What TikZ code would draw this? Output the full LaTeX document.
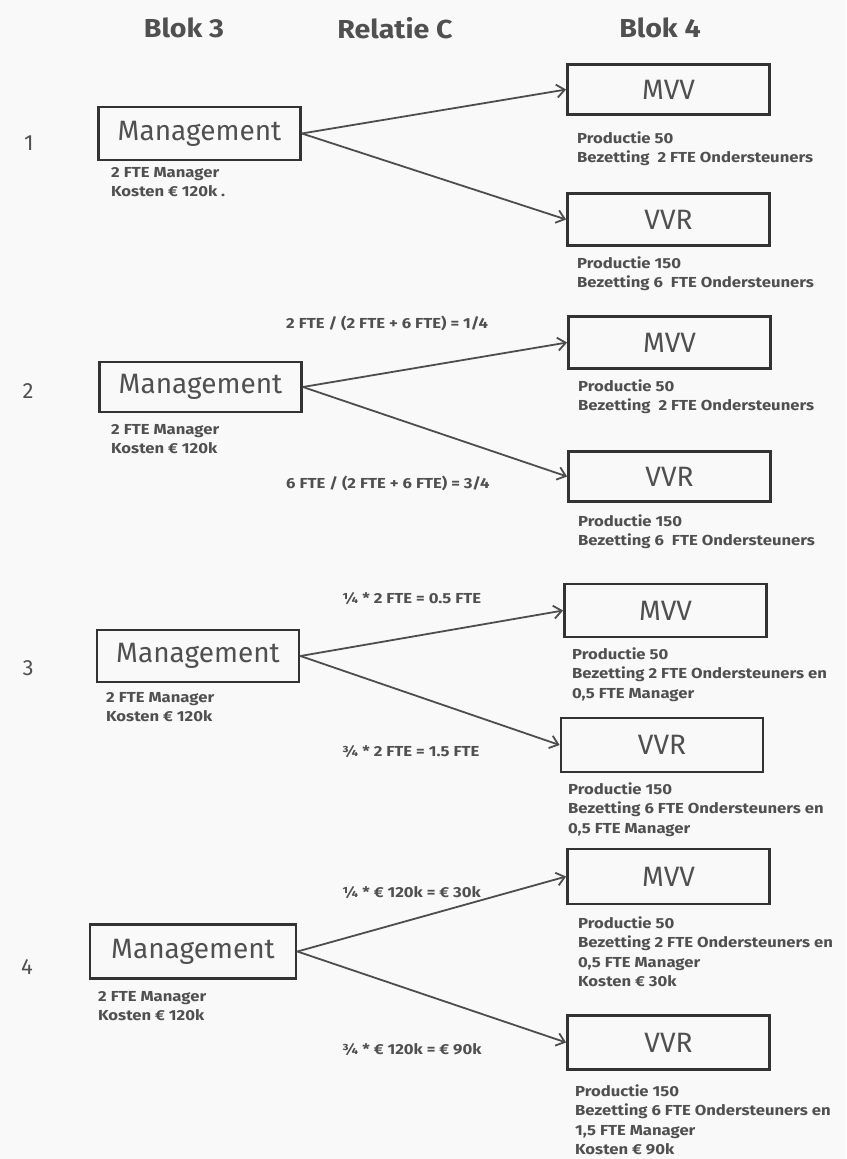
\documentclass[tikz,border=0pt]{standalone}
\usepackage{fontspec}
\setmainfont{Fira Sans}
\newfontfamily\widefont{Fira Sans}[FakeStretch=1.15]
\newfontfamily\headfont{Fira Sans}[FakeStretch=1.1]
\usetikzlibrary{arrows.meta}
\definecolor{txt}{HTML}{505050}
\definecolor{boxc}{HTML}{333333}
\definecolor{arrc}{HTML}{4D4D4D}
\definecolor{bg}{HTML}{F9F9F9}
\tikzset{
  box/.style={draw=boxc, line width=2.8pt, inner sep=0pt, text=txt,
    font=\fontsize{28}{30}\selectfont},
  info/.style={anchor=north west, align=left, inner sep=0pt, text=txt,
    font=\widefont\bfseries\fontsize{14.5}{19.5}\selectfont},
  minfo/.style={anchor=north west, align=left, inner sep=0pt, text=txt,
    font=\widefont\bfseries\fontsize{14.5}{18.5}\selectfont},
  rel/.style={anchor=west, inner sep=0pt, text=txt,
    font=\widefont\bfseries\fontsize{14.5}{16}\selectfont},
  head/.style={inner sep=0pt, text=txt, font=\headfont\bfseries\fontsize{26}{30}\selectfont},
  num/.style={inner sep=0pt, text=txt, font=\fontsize{22}{28}\selectfont},
  arr/.style={draw=arrc, line width=1.8pt, -{Straight Barb[length=8pt,width=13pt]}},
}
\begin{document}
\begin{tikzpicture}[x=1pt,y=-1pt]
\fill[bg] (0,0) rectangle (846,1159);
\useasboundingbox (0,0) rectangle (846,1159);

% headers
\node[head] (h1) at (184,28) {Blok 3};
\node[head] (h2) at (395,28) {Relatie C};
\node[head] (h3) at (660,28) {Blok 4};

% ---------- panel 1
\node[num] (n1) at (29,143) {1};
\node[box, minimum width=202pt, minimum height=53pt] (m1) at (199.5,133.5) {Management};
\node[box, minimum width=202pt, minimum height=50pt] (v1) at (668.5,89.5) {MVV};
\node[box, minimum width=202pt, minimum height=52pt] (r1) at (668.5,219.5) {VVR};
\node[minfo] (mt1) at (111,167.5) {2 FTE Manager\\Kosten € 120k .};
\node[info] (vt1) at (577,131.5) {Productie 50\\Bezetting\ \ 2 FTE Ondersteuners};
\node[info] (rt1) at (577,256.5) {Productie 150\\Bezetting 6\ \ FTE Ondersteuners};
\draw[arr] (m1.east) -- (v1.west);
\draw[arr] (m1.east) -- (r1.west);

% ---------- panel 2
\node[num] (n2) at (28,391) {2};
\node[box, minimum width=202pt, minimum height=50pt] (m2) at (200.5,387) {Management};
\node[box, minimum width=202pt, minimum height=52pt] (v2) at (669.5,342.5) {MVV};
\node[box, minimum width=202pt, minimum height=50pt] (r2) at (669.5,476.5) {VVR};
\node[minfo] (mt2) at (111,424.5) {2 FTE Manager\\Kosten € 120k};
\node[info] (vt2) at (578,379.5) {Productie 50\\Bezetting\ \ 2 FTE Ondersteuners};
\node[info] (rt2) at (578,514.5) {Productie 150\\Bezetting 6\ \ FTE Ondersteuners};
\node[rel] (ra2) at (286,323) {2 FTE / (2 FTE + 6 FTE) = 1/4};
\node[rel] (rb2) at (286,483) {6 FTE / (2 FTE + 6 FTE) = 3/4};
\draw[arr] (m2.east) -- (v2.west);
\draw[arr] (m2.east) -- (r2.west);

% ---------- panel 3
\node[num] (n3) at (28,668) {3};
\node[box, minimum width=202pt, minimum height=52pt] (m3) at (198,656) {Management};
\node[box, minimum width=202pt, minimum height=53pt] (v3) at (665.5,610.5) {MVV};
\node[box, minimum width=202pt, minimum height=54pt] (r3) at (662,745) {VVR};
\node[minfo] (mt3) at (106,692.5) {2 FTE Manager\\Kosten € 120k};
\node[info] (vt3) at (572,647.5) {Productie 50\\Bezetting 2 FTE Ondersteuners en\\0,5 FTE Manager};
\node[info] (rt3) at (568,782.5) {Productie 150\\Bezetting 6 FTE Ondersteuners en\\0,5 FTE Manager};
\node[rel] (ra3) at (342,599) {¼ * 2 FTE = 0.5 FTE};
\node[rel] (rb3) at (342,752) {¾ * 2 FTE = 1.5 FTE};
\draw[arr] (m3.east) -- (v3.west);
\draw[arr] (m3.east) -- (r3.west);

% ---------- panel 4
\node[num] (n4) at (27,967) {4};
\node[box, minimum width=206pt, minimum height=54pt] (m4) at (193,951.5) {Management};
\node[box, minimum width=202pt, minimum height=55pt] (v4) at (668.5,876.5) {MVV};
\node[box, minimum width=202pt, minimum height=54pt] (r4) at (668.5,1042.5) {VVR};
\node[minfo] (mt4) at (98,991.5) {2 FTE Manager\\Kosten € 120k};
\node[info] (vt4) at (578,916.5) {Productie 50\\Bezetting 2 FTE Ondersteuners en\\0,5 FTE Manager\\Kosten € 30k};
\node[info] (rt4) at (575,1084.5) {Productie 150\\Bezetting 6 FTE Ondersteuners en\\1,5 FTE Manager\\Kosten € 90k};
\node[rel] (ra4) at (342,893) {¼ * € 120k = € 30k};
\node[rel] (rb4) at (342,1050) {¾ * € 120k = € 90k};
\draw[arr] (m4.east) -- (v4.west);
\draw[arr] (m4.east) -- (r4.west);
\end{tikzpicture}
\end{document}
